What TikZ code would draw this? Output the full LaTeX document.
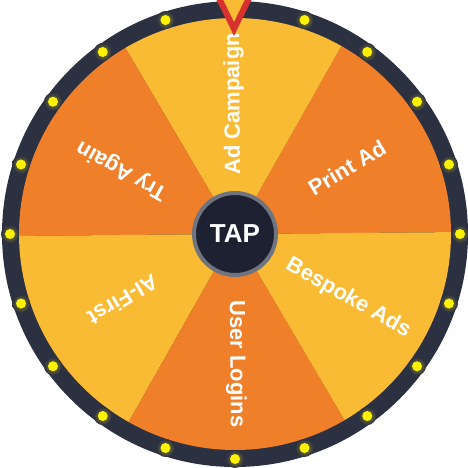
\documentclass[tikz,border=0pt]{standalone}
\usepackage{fontspec}
\setmainfont{Liberation Sans}
\usetikzlibrary{positioning}
\definecolor{wheelorange}{HTML}{F07F29}
\definecolor{wheelyellow}{HTML}{F9BA34}
\definecolor{rimdark}{HTML}{2C3142}
\definecolor{bulbyellow}{HTML}{FFF200}
\definecolor{tapfill}{HTML}{1E2131}
\definecolor{tapborder}{HTML}{70747F}
\definecolor{pointred}{HTML}{D8302F}
\tikzset{
  lbl/.style={text=white, font=\bfseries\fontsize{22}{24}\selectfont, inner sep=0pt},
  bulb/.style={circle, fill=bulbyellow, minimum size=10pt, inner sep=0pt},
  glow/.style={inner color=bulbyellow!45!rimdark, outer color=rimdark},
  tap/.style={circle, fill=tapfill, draw=tapborder, line width=4pt, minimum size=82pt, text=white, font=\bfseries\fontsize{26}{28}\selectfont},
  pointer/.style={draw=pointred, fill=wheelyellow, line width=6pt, line join=miter}
}
\begin{document}
\begin{tikzpicture}[x=1pt,y=1pt]
	\useasboundingbox (-235,-234) rectangle (233,234);
	\clip (-235,-234) rectangle (233,234);
	\fill[rimdark] (0,0) circle[radius=233];
	%
	\foreach \a/\c/\t [count=\i] in {0.5/wheelorange/Print Ad, 60.5/wheelyellow/Ad Campaign, 120.5/wheelorange/Try Again, 180.5/wheelyellow/AI-First, 240.5/wheelorange/User Logins, 300.5/wheelyellow/Bespoke Ads}{
		\fill[\c] (0,0) -- (\a:216) arc[start angle=\a, end angle=\a+60, radius=216] -- cycle;
		\node[lbl, rotate=\a+30] (lab\i) at (\a+30:130) {\t};
	}
	%
	\foreach \k in {0,...,19}{
		\shade[glow] (\k*18:225) circle[radius=9];
		\node[bulb] (bulb\k) at (\k*18:225) {};
	}
	%
	\node[tap] (tap) at (0,0) {TAP};
	\draw[pointer] (-19,242) -- (-1,205) -- (17,242);
\end{tikzpicture}
\end{document}
